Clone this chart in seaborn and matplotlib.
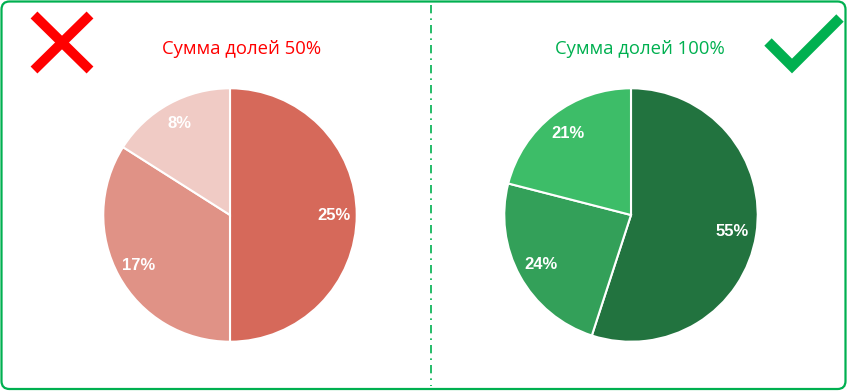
import matplotlib
matplotlib.use("Agg")
import matplotlib.pyplot as plt
from matplotlib.patches import FancyBboxPatch
import seaborn as sns

# Data
left_title = "Сумма долей 50%"
right_title = "Сумма долей 100%"
left_values = [25, 17, 8]
right_values = [55, 24, 21]
left_colors = ["#D6695A", "#E09286", "#F0CBC5"]
right_colors = ["#22733F", "#33A059", "#3DBD68"]

sns.set_theme(style="white")
plt.rcParams['font.family'] = ['Open Sans', 'DejaVu Sans']

W, H = 848, 392
fig = plt.figure(figsize=(W / 100, H / 100), dpi=100)
fig.patch.set_facecolor("white")

# background layer in pixel coordinates
bg = fig.add_axes([0, 0, 1, 1])
bg.set_xlim(0, W)
bg.set_ylim(H, 0)
bg.axis("off")

green = "#00B050"
red = "#FF0000"

bg.add_patch(FancyBboxPatch((1.5, 1.5), W - 4, H - 4.5,
                            boxstyle="round,pad=0,rounding_size=8",
                            fill=False, edgecolor=green, linewidth=1.6))
bg.plot([431, 431], [5, 386], color=green, linewidth=1.2,
        linestyle=(0, (5, 3, 1, 3)))

# red cross
bg.plot([34, 90], [15, 70], color=red, linewidth=7, solid_capstyle="butt")
bg.plot([90, 34], [15, 70], color=red, linewidth=7, solid_capstyle="butt")
# green check
bg.plot([768, 792, 840], [42, 66, 18], color=green, linewidth=7.5,
        solid_capstyle="butt", solid_joinstyle="miter")

bg.text(242, 49, left_title, color=red, fontsize=13.3, ha="center", va="center")
bg.text(640, 49, right_title, color=green, fontsize=13.3, ha="center", va="center")


def draw_pie(cx, cy, r, values, colors, pctdist):
    ax = fig.add_axes([(cx - r) / W, (H - cy - r) / H, 2 * r / W, 2 * r / H])
    ax.pie(values, colors=colors, startangle=90, counterclock=False,
           labels=[f"{v}%" for v in values], labeldistance=pctdist,
           wedgeprops=dict(edgecolor="white", linewidth=1.5),
           textprops=dict(color="white", fontsize=12, fontweight="bold",
                          family=["Liberation Sans", "DejaVu Sans"],
                          ha="center", va="center"))
    ax.set_xlim(-1.01, 1.01)
    ax.set_ylim(-1.01, 1.01)
    ax.set_aspect("equal")
    ax.axis("off")
    return ax


draw_pie(230, 215, 128, left_values, left_colors, 0.82)
draw_pie(631, 215, 128, right_values, right_colors, 0.81)

fig.savefig("out.png", dpi=100)
